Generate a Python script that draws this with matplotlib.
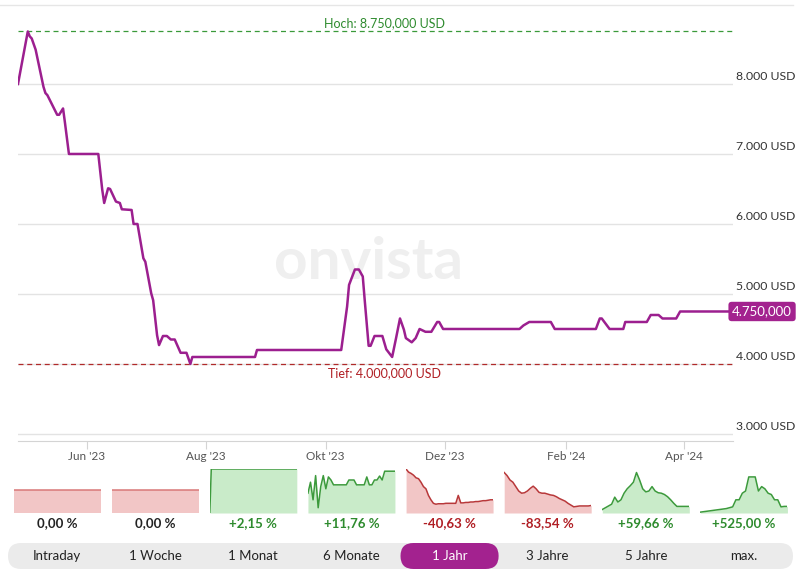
import numpy as np
import pandas as pd
import matplotlib
matplotlib.use("Agg")
import matplotlib.pyplot as plt
from matplotlib.patches import FancyBboxPatch

plt.rcParams['font.family'] = ['Lato', 'DejaVu Sans']

# main price series (USD)
dates = ["2023-04-27", "2023-05-02", "2023-05-03", "2023-05-04", "2023-05-06", "2023-05-10",
         "2023-05-11", "2023-05-12", "2023-05-17", "2023-05-18", "2023-05-20", "2023-05-21",
         "2023-05-23", "2023-06-07", "2023-06-09", "2023-06-10", "2023-06-12", "2023-06-13",
         "2023-06-16", "2023-06-18", "2023-06-19", "2023-06-24", "2023-06-25", "2023-06-27",
         "2023-06-30", "2023-07-01", "2023-07-04", "2023-07-05", "2023-07-07", "2023-07-08",
         "2023-07-10", "2023-07-12", "2023-07-14", "2023-07-16", "2023-07-19", "2023-07-22",
         "2023-07-24", "2023-07-25", "2023-08-26", "2023-08-27", "2023-10-09", "2023-10-12",
         "2023-10-13", "2023-10-16", "2023-10-18", "2023-10-20", "2023-10-21", "2023-10-23",
         "2023-10-24", "2023-10-26", "2023-10-30", "2023-11-01", "2023-11-04", "2023-11-06",
         "2023-11-08", "2023-11-10", "2023-11-11", "2023-11-14", "2023-11-16", "2023-11-18",
         "2023-11-21", "2023-11-24", "2023-11-27", "2023-11-28", "2023-11-30", "2024-01-08",
         "2024-01-10", "2024-01-13", "2024-01-24", "2024-01-26", "2024-02-16", "2024-02-18",
         "2024-02-19", "2024-02-23", "2024-03-01", "2024-03-02", "2024-03-13", "2024-03-15",
         "2024-03-19", "2024-03-21", "2024-03-28", "2024-03-30", "2024-04-25"]
prices = [8000, 8750, 8680, 8650, 8490, 7960, 7870, 7840, 7560, 7560, 7650, 7440,
          7000, 7000, 6490, 6300, 6510, 6500, 6320, 6300, 6210, 6200, 6000, 6000,
          5510, 5460, 5010, 4910, 4410, 4270, 4400, 4400, 4350, 4350, 4160, 4160,
          4000, 4100, 4100, 4200, 4200, 4820, 5130, 5350, 5350, 5250, 4910, 4260,
          4260, 4400, 4400, 4210, 4100, 4370, 4650, 4490, 4370, 4310, 4370, 4500,
          4460, 4460, 4600, 4600, 4500, 4500, 4550, 4600, 4600, 4500, 4500, 4650,
          4650, 4500, 4500, 4600, 4600, 4700, 4700, 4650, 4650, 4750, 4750]

high_value = 8750
low_value = 4000
last_label = "4.750,000"
y_ticks = [3000, 4000, 5000, 6000, 7000, 8000]
y_tick_labels = ["3.000 USD", "4.000 USD", "5.000 USD", "6.000 USD", "7.000 USD", "8.000 USD"]
month_ticks = ["2023-06-01", "2023-08-01", "2023-10-01", "2023-12-01", "2024-02-01", "2024-04-01"]
month_labels = ["Jun '23", "Aug '23", "Okt '23", "Dez '23", "Feb '24", "Apr '24"]

# small period previews (normalised 0..1)
periods = ["Intraday", "1 Woche", "1 Monat", "6 Monate", "1 Jahr", "3 Jahre", "5 Jahre", "max."]
period_changes = ["0,00 %", "0,00 %", "+2,15 %", "+11,76 %", "-40,63 %", "-83,54 %", "+59,66 %", "+525,00 %"]
spark_intraday = [0.52, 0.52]
spark_week = [0.52, 0.52]
spark_month = [0.0] + [1.0] * 60
spark_6m = [0.45, 0.7, 0.3, 0.85, 0.12, 0.6, 0.85, 0.55, 0.82, 0.75, 0.64, 0.64, 0.64, 0.64,
            0.64, 0.64, 0.75, 0.75, 0.75, 0.64, 0.64, 0.64, 0.64, 0.82, 0.64, 0.64, 0.75,
            0.75, 0.84, 0.75, 0.95, 0.95, 0.95, 0.95, 0.95]
spark_1y = [1.0, 0.93, 0.9, 0.86, 0.8, 0.78, 0.7, 0.6, 0.55, 0.4, 0.3, 0.22, 0.2, 0.21,
            0.21, 0.21, 0.22, 0.22, 0.22, 0.22, 0.22, 0.4, 0.23, 0.23, 0.24, 0.24, 0.25,
            0.25, 0.26, 0.26, 0.27, 0.28, 0.28, 0.29, 0.3, 0.3]
spark_3y = [0.92, 0.85, 0.75, 0.7, 0.6, 0.5, 0.45, 0.46, 0.5, 0.56, 0.61, 0.55, 0.47, 0.45,
            0.45, 0.43, 0.41, 0.4, 0.37, 0.33, 0.3, 0.27, 0.22, 0.18, 0.14, 0.15, 0.16, 0.16,
            0.16, 0.16, 0.17]
spark_5y = [0.08, 0.12, 0.16, 0.2, 0.36, 0.25, 0.3, 0.45, 0.55, 0.62, 0.7, 0.92, 0.75, 0.55,
            0.48, 0.5, 0.6, 0.5, 0.46, 0.45, 0.42, 0.37, 0.3, 0.22, 0.15, 0.15, 0.15, 0.15, 0.15]
spark_max = [0.02, 0.03, 0.04, 0.05, 0.06, 0.07, 0.08, 0.09, 0.1, 0.12, 0.14, 0.3, 0.3, 0.45,
             0.5, 0.82, 0.82, 0.82, 0.5, 0.6, 0.55, 0.45, 0.42, 0.3, 0.3, 0.14, 0.15, 0.15]
sparks = [spark_intraday, spark_week, spark_month, spark_6m, spark_1y, spark_3y, spark_5y, spark_max]
selected = "1 Jahr"

W, H = 811, 584
purple = "#9c1f8f"
green_txt = "#2e8b2e"
red_txt = "#b01e24"

fig = plt.figure(figsize=(W / 100, H / 100), dpi=100)
fig.patch.set_facecolor("white")

def px_box(x0, y0, x1, y1):
    return [x0 / W, 1 - y1 / H, (x1 - x0) / W, (y1 - y0) / H]

# overlay for ui elements (pixel coords)
ov = fig.add_axes([0, 0, 1, 1], zorder=0)
ov.set_xlim(0, W)
ov.set_ylim(H, 0)
ov.axis("off")
ov.plot([0, 793], [5, 5], color="#e6e6e6", lw=1)

ax = fig.add_axes(px_box(18, 5, 733, 441), zorder=1)
ax.patch.set_alpha(0)
x = pd.to_datetime(dates)
ax.plot(x, prices, color=purple, lw=1.8, zorder=3, solid_joinstyle="round")
ax.set_xlim(pd.Timestamp("2023-04-27"), pd.Timestamp("2024-04-26"))
ax.set_ylim(2900, 9128)

for s in ["top", "left", "right"]:
    ax.spines[s].set_visible(False)
ax.spines["bottom"].set_color("#d4d4d4")
ax.set_yticks(y_ticks)
ax.set_yticklabels([])
ax.tick_params(axis="y", length=0)
ax.grid(axis="y", color="#e3e3e3", lw=1)
ax.set_axisbelow(True)
ax.set_xticks(pd.to_datetime(month_ticks))
ax.set_xticklabels(month_labels, fontsize=8.5, color="#555555")
ax.tick_params(axis="x", length=6, color="#d4d4d4", pad=1.5)

for v, lab in zip(y_ticks, y_tick_labels):
    ax.annotate(lab, xy=(1, v), xycoords=("axes fraction", "data"),
                xytext=(62 * 0.72, 1.5), textcoords="offset points",
                ha="right", va="bottom", fontsize=8.8, color="#333333")

ax.axhline(high_value, color="#3a9a3a", lw=0.9, ls=(0, (4, 3)))
ax.axhline(low_value, color="#b02a2a", lw=0.9, ls=(0, (4, 3)))
ax.annotate("Hoch: 8.750,000 USD", xy=(0.513, high_value), xycoords=("axes fraction", "data"),
            xytext=(0, 1.5), textcoords="offset points", ha="center", va="bottom",
            fontsize=9, color=green_txt)
ax.annotate("Tief: 4.000,000 USD", xy=(0.513, low_value), xycoords=("axes fraction", "data"),
            xytext=(0, -2.5), textcoords="offset points", ha="center", va="top",
            fontsize=9, color=red_txt)
ax.annotate(last_label, xy=(1, prices[-1]), xycoords=("axes fraction", "data"),
            xytext=(59 * 0.72, 0), textcoords="offset points", ha="right", va="center",
            fontsize=9.5, color="white",
            bbox=dict(boxstyle="round,pad=0.28,rounding_size=0.25", fc="#a3228f", ec="none"))
ax.text(0.49, 0.41, "onvista", transform=ax.transAxes, ha="center", va="center",
        fontsize=42, fontweight="bold", color="#efefef", zorder=1)

# sparkline panels + buttons
seg = (793 - 8) / len(periods)
for i, (name, chg, vals) in enumerate(zip(periods, period_changes, sparks)):
    cx = 8 + seg * (i + 0.5)
    sa = fig.add_axes(px_box(cx - 43.5, 469, cx + 43.5, 513), zorder=1)
    sa.axis("off")
    up = chg.startswith("+")
    fc = "#c9ebc9" if up else "#f2c6c6"
    lc = "#3c9a3c" if up else "#b8383a"
    if chg.startswith("0"):
        lc = "#d87878"
    xs = np.arange(len(vals))
    sa.fill_between(xs, vals, 0, color=fc, lw=0)
    sa.plot(xs, vals, color=lc, lw=1.1)
    sa.set_xlim(0, len(vals) - 1)
    sa.set_ylim(0, 1)
    tc = green_txt if up else (red_txt if chg.startswith("-") else "#222222")
    ov.text(cx, 523, chg, ha="center", va="center", fontsize=9.5, color=tc, fontweight="bold")

ov.add_patch(FancyBboxPatch((8, 543), 785, 26,
                            boxstyle="round,pad=0,rounding_size=13", fc="#ebebeb", ec="none"))
for i, name in enumerate(periods):
    cx = 8 + seg * (i + 0.5)
    col = "#222222"
    if name == selected:
        ov.add_patch(FancyBboxPatch((cx - seg / 2, 543), seg, 26,
                                    boxstyle="round,pad=0,rounding_size=13", fc="#a3228f",
                                    ec="none", zorder=3))
        col = "white"
    ov.text(cx, 556.5, name, ha="center", va="center", fontsize=9.5, color=col, zorder=4)

fig.savefig("out.png", dpi=100, facecolor="white")
